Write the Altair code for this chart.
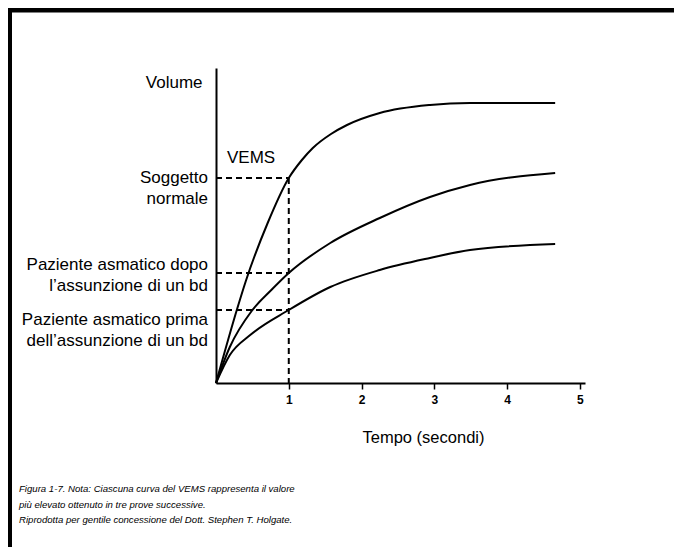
import altair as alt
import pandas as pd

# ---- data ----
t_normale = [0, 0.29, 0.41, 0.71, 1.0, 1.18, 1.33, 1.58, 1.8, 2.25, 2.94, 3.49, 4.66]
v_normale = [0, 1.48, 2.04, 3.2, 4.1, 4.46, 4.7, 4.98, 5.16, 5.4, 5.56, 5.6, 5.6]

t_dopo = [0, 0.19, 0.49, 0.76, 1.0, 1.57, 2.25, 2.94, 3.49, 4.66]
v_dopo = [0, 0.72, 1.44, 1.86, 2.2, 2.8, 3.3, 3.72, 3.96, 4.2]

t_prima = [0, 0.19, 0.47, 1.0, 1.57, 2.25, 2.94, 3.49, 4.66]
v_prima = [0, 0.56, 0.96, 1.46, 1.92, 2.26, 2.5, 2.66, 2.78]

vems_t = 1.0
vems_values = [4.1, 2.2, 1.46]
vems_labels = [
    ["Soggetto", "normale"],
    ["Paziente asmatico dopo", "l\u2019assunzione di un bd"],
    ["Paziente asmatico prima", "dell\u2019assunzione di un bd"],
]
label_dy = [0, -8, 10]

x_ticks = [1, 2, 3, 4, 5]
caption = [
    "Figura 1-7. Nota: Ciascuna curva del VEMS rappresenta il valore",
    "pi\u00f9 elevato ottenuto in tre prove successive.",
    "Riprodotta per gentile concessione del Dott. Stephen T. Holgate.",
]

FONT = "Liberation Sans, Arial, Helvetica, sans-serif"

rows = []
for name, ts, vs in [("normale", t_normale, v_normale),
                     ("dopo", t_dopo, v_dopo),
                     ("prima", t_prima, v_prima)]:
    for i, (t, v) in enumerate(zip(ts, vs)):
        rows.append({"serie": name, "t": t, "v": v, "o": i})
curves_df = pd.DataFrame(rows)

xscale = alt.Scale(domain=[0, 5.07], nice=False, zero=False)
yscale = alt.Scale(domain=[0, 6.3], nice=False, zero=False)

xaxis = alt.Axis(values=x_ticks, format="d", grid=False,
                 domainColor="black", domainWidth=2,
                 tickColor="black", tickWidth=1.5, tickSize=6,
                 labelFont=FONT, labelFontSize=12, labelFontWeight="bold",
                 labelColor="black", labelPadding=5,
                 title="Tempo (secondi)", titleFont=FONT, titleFontSize=16.5,
                 titleFontWeight="normal", titleColor="black",
                 titleX=207, titleY=54, titleAlign="center", titleBaseline="middle")
yaxis = alt.Axis(grid=False, ticks=False, labels=False,
                 domainColor="black", domainWidth=2,
                 title="Volume", titleFont=FONT, titleFontSize=17,
                 titleFontWeight="normal", titleColor="black",
                 titleAngle=0, titleAlign="right", titleBaseline="middle",
                 titleX=-14, titleY=14)

curves = alt.Chart(curves_df).mark_line(
    color="black", strokeWidth=2, interpolate="monotone"
).encode(
    x=alt.X("t:Q", scale=xscale, axis=xaxis),
    y=alt.Y("v:Q", scale=yscale, axis=yaxis),
    detail="serie:N",
    order="o:Q",
)

vems_df = pd.DataFrame({"t0": [0] * 3, "t1": [vems_t] * 3, "v": vems_values})
hdash = alt.Chart(vems_df).mark_rule(
    color="black", strokeWidth=2, strokeDash=[6, 4]
).encode(
    x=alt.X("t0:Q", scale=xscale), x2="t1:Q",
    y=alt.Y("v:Q", scale=yscale),
)
vdash_df = pd.DataFrame({"t": [vems_t], "v": [max(vems_values)], "v0": [0]})
vdash = alt.Chart(vdash_df).mark_rule(
    color="black", strokeWidth=2, strokeDash=[6, 4]
).encode(
    x=alt.X("t:Q", scale=xscale),
    y=alt.Y("v:Q", scale=yscale), y2="v0:Q",
)

label_layers = []
for lab, v, dy in zip(vems_labels, vems_values, label_dy):
    ldf = pd.DataFrame({"v": [v], "lab": [lab]})
    label_layers.append(
        alt.Chart(ldf).mark_text(
            align="right", baseline="middle", font=FONT, fontSize=17,
            lineHeight=21, dy=dy, color="black"
        ).encode(
            x=alt.value(-8),
            y=alt.Y("v:Q", scale=yscale),
            text="lab",
        )
    )

one = alt.Data(values=[{}])
vems_text = alt.Chart(one).mark_text(
    align="left", baseline="middle", font=FONT, fontSize=17, color="black",
    text="VEMS"
).encode(x=alt.value(11), y=alt.value(90))

cap_text = alt.Chart(one).mark_text(
    align="left", baseline="alphabetic", font=FONT,
    fontSize=9.6, fontStyle="italic", lineHeight=15.5, color="black",
    text=caption
).encode(x=alt.value(-197), y=alt.value(424))

left_border = alt.Chart(one).mark_rule(color="black", strokeWidth=4).encode(
    x=alt.value(-206), y=alt.value(-60), y2=alt.value(481))
top_bar = alt.Chart(one).mark_rule(color="black", strokeWidth=5).encode(
    x=alt.value(-208), x2=alt.value(458), y=alt.value(-58))

chart = alt.layer(
    hdash, vdash, curves, *label_layers, vems_text, cap_text, left_border, top_bar
).properties(
    width=369, height=315,
    autosize=alt.AutoSizeParams(type="none"),
    padding={"left": 208, "top": 60, "right": 89, "bottom": 164},
    background="white",
).configure_view(stroke=None)

chart.save("out.html", embed_options={"renderer": "svg", "actions": False})
